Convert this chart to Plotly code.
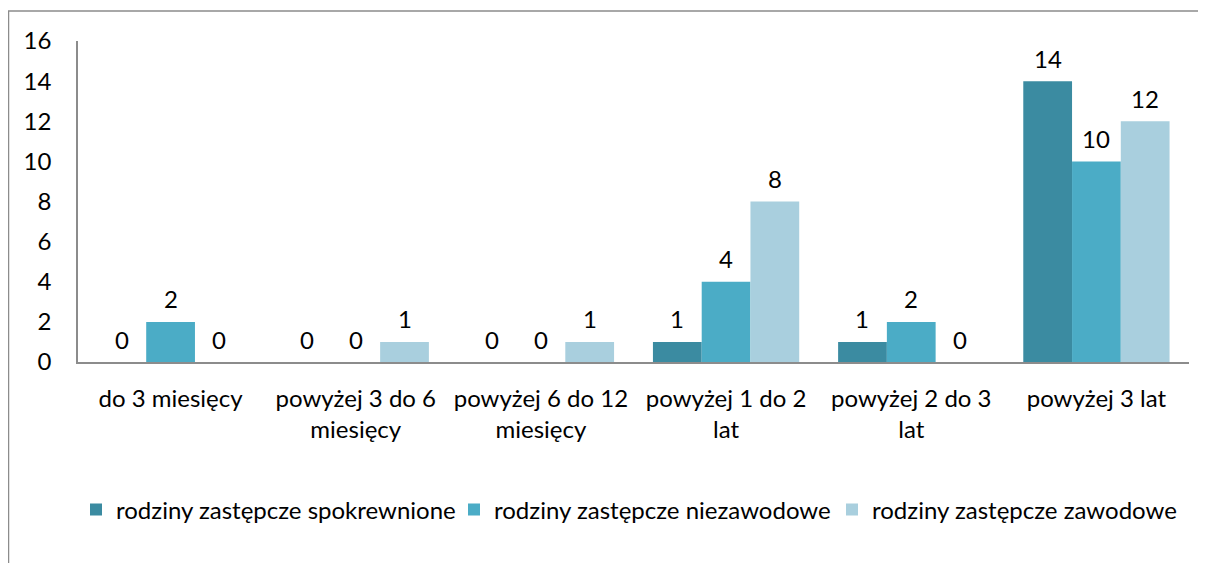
import plotly.graph_objects as go

categories = ["do 3 miesięcy", "powyżej 3 do 6<br>miesięcy", "powyżej 6 do 12<br>miesięcy",
              "powyżej 1 do 2<br>lat", "powyżej 2 do 3<br>lat", "powyżej 3 lat"]
spokrewnione = [0, 0, 0, 1, 1, 14]
niezawodowe = [2, 0, 0, 4, 2, 10]
zawodowe = [0, 1, 1, 8, 0, 12]
series_names = ["rodziny zastępcze spokrewnione", "rodziny zastępcze niezawodowe",
                "rodziny zastępcze zawodowe"]
colors = ["#3B8BA1", "#4BACC6", "#A9CFDE"]
y_ticks = [0, 2, 4, 6, 8, 10, 12, 14, 16]

FONT = "Lato, Carlito, Calibri, sans-serif"
FS = 24

# page body has an 8px margin; compensate so the chart lands where the reference is
W, H = 1198, 555
ML, MR, MT, MB = 70, 17, 33, 201
plot_w = W - ML - MR
plot_h = H - MT - MB
bargap = 0.21
bar_px = plot_w / len(categories) * (1 - bargap) / 3

fig = go.Figure()
annotations = []
all_series = [spokrewnione, niezawodowe, zawodowe]
for j, (name, vals, col) in enumerate(zip(series_names, all_series, colors)):
    fig.add_trace(go.Bar(
        x=categories, y=vals, name=name,
        marker=dict(color=col, line=dict(width=0)),
    ))
    for cat, v in zip(categories, vals):
        annotations.append(dict(
            x=cat, y=v, xref="x", yref="y", text=str(v), showarrow=False,
            xshift=(j - 1) * bar_px, yshift=23, yanchor="middle", xanchor="center",
            font=dict(family=FONT, size=FS, color="#000000"),
        ))

fig.update_layout(
    width=W, height=H,
    margin=dict(l=ML, r=MR, t=MT, b=MB, autoexpand=False),
    paper_bgcolor="white", plot_bgcolor="white",
    barmode="group", bargap=bargap, bargroupgap=0,
    font=dict(family=FONT, size=FS, color="#000000"),
    showlegend=True,
    legend=dict(orientation="h", x=(68 - ML) / plot_w, xanchor="left",
                y=-(510 - 362) / plot_h, yanchor="middle",
                font=dict(family=FONT, size=FS), itemwidth=30,
                entrywidth=333, entrywidthmode="pixels", traceorder="normal"),
    xaxis=dict(showline=True, linecolor="#8C8C8C", linewidth=1.5, showgrid=False,
               ticks="", tickangle=0, automargin=False, ticklabelstandoff=14,
               tickfont=dict(family=FONT, size=FS)),
    yaxis=dict(range=[0, 16], tickvals=y_ticks, showline=True, linecolor="#8C8C8C",
               linewidth=1.5, showgrid=False, zeroline=False, ticks="", automargin=False,
               ticklabelstandoff=20, tickfont=dict(family=FONT, size=FS)),
    annotations=annotations,
    shapes=[dict(type="rect", xref="paper", yref="paper",
                 x0=(0.5 - ML) / plot_w, x1=1.2, y0=-1.0, y1=1 + (MT - 3) / plot_h,
                 line=dict(color="#8C8C8C", width=1.5), fillcolor="rgba(0,0,0,0)",
                 layer="below")],
)

fig.write_html("out.html")
